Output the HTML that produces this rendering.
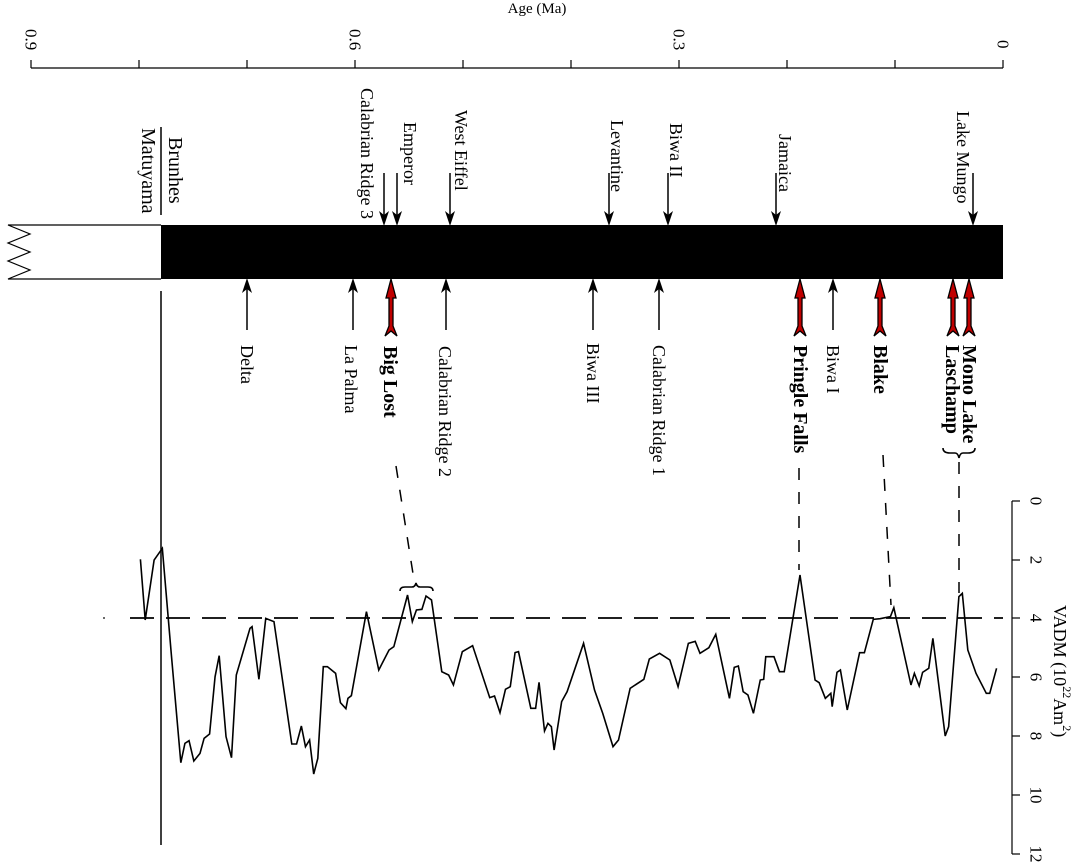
<!DOCTYPE html>
<html><head><meta charset="utf-8"><style>
html,body{margin:0;padding:0;background:#fff;}
svg{display:block;font-family:"Liberation Serif",serif;}
</style></head><body>
<svg width="1074" height="863" viewBox="0 0 1074 863" xmlns="http://www.w3.org/2000/svg">
<text x="537" y="13" font-size="15" text-anchor="middle">Age (Ma)</text>
<g stroke="#000" stroke-width="1.2" fill="none">
<line x1="31" y1="68" x2="1003" y2="68"/>
<line x1="31" y1="60" x2="31" y2="68"/><line x1="139" y1="60" x2="139" y2="68"/><line x1="247" y1="60" x2="247" y2="68"/><line x1="355" y1="60" x2="355" y2="68"/><line x1="463" y1="60" x2="463" y2="68"/><line x1="571" y1="60" x2="571" y2="68"/><line x1="679" y1="60" x2="679" y2="68"/><line x1="787" y1="60" x2="787" y2="68"/><line x1="895" y1="60" x2="895" y2="68"/><line x1="1003" y1="60" x2="1003" y2="68"/>
</g>
<g font-size="17">
<text transform="translate(31,29) rotate(90)" dominant-baseline="central">0.9</text>
<text transform="translate(355,29) rotate(90)" dominant-baseline="central">0.6</text>
<text transform="translate(679,29) rotate(90)" dominant-baseline="central">0.3</text>
<text transform="translate(1003,40) rotate(90)" dominant-baseline="central">0</text>
</g>
<rect x="161" y="225" width="842" height="54" fill="#000"/>
<path d="M161,225 H8 L30,234 L8,243 L30,252 L8,261 L30,270 L8,279 H161" fill="#fff" stroke="#000" stroke-width="1.2"/>
<line x1="161" y1="127" x2="161" y2="215" stroke="#000" stroke-width="1.5"/>
<line x1="161" y1="291" x2="161" y2="845" stroke="#000" stroke-width="1.5"/>
<g font-size="20">
<text transform="translate(175,137) rotate(90)" dominant-baseline="central">Brunhes</text>
<text transform="translate(148,128) rotate(90)" dominant-baseline="central">Matuyama</text>
</g>
<g stroke="#000" stroke-width="1.5">
<line x1="384" y1="173" x2="384" y2="216"/><line x1="397" y1="173" x2="397" y2="216"/><line x1="450" y1="173" x2="450" y2="216"/><line x1="609" y1="173" x2="609" y2="216"/><line x1="668" y1="173" x2="668" y2="216"/><line x1="776" y1="173" x2="776" y2="216"/><line x1="973" y1="173" x2="973" y2="216"/>
</g>
<g fill="#000">
<path d="M379,211 L384,226 L389,211 L384,215Z"/><path d="M392,211 L397,226 L402,211 L397,215Z"/><path d="M445,211 L450,226 L455,211 L450,215Z"/><path d="M604,211 L609,226 L614,211 L609,215Z"/><path d="M663,211 L668,226 L673,211 L668,215Z"/><path d="M771,211 L776,226 L781,211 L776,215Z"/><path d="M968,211 L973,226 L978,211 L973,215Z"/>
</g>
<g font-size="18">
<text transform="translate(367,88) rotate(90)" dominant-baseline="central">Calabrian Ridge 3</text>
<text transform="translate(410,122) rotate(90)" dominant-baseline="central">Emperor</text>
<text transform="translate(461,110) rotate(90)" dominant-baseline="central">West Eiffel</text>
<text transform="translate(617,120) rotate(90)" dominant-baseline="central">Levantine</text>
<text transform="translate(676,123) rotate(90)" dominant-baseline="central">Biwa II</text>
<text transform="translate(785,134) rotate(90)" dominant-baseline="central">Jamaica</text>
<text transform="translate(963,111) rotate(90)" dominant-baseline="central">Lake Mungo</text>
</g>
<g stroke="#000" stroke-width="1.5">
<line x1="247" y1="288" x2="247" y2="330"/><line x1="353" y1="288" x2="353" y2="330"/><line x1="446" y1="288" x2="446" y2="330"/><line x1="593" y1="288" x2="593" y2="330"/><line x1="659" y1="288" x2="659" y2="330"/><line x1="833" y1="288" x2="833" y2="330"/>
</g>
<g fill="#000">
<path d="M242,293 L247,278 L252,293 L247,289Z"/><path d="M348,293 L353,278 L358,293 L353,289Z"/><path d="M441,293 L446,278 L451,293 L446,289Z"/><path d="M588,293 L593,278 L598,293 L593,289Z"/><path d="M654,293 L659,278 L664,293 L659,289Z"/><path d="M828,293 L833,278 L838,293 L833,289Z"/>
</g>
<g fill="#c00000" stroke="#000" stroke-width="1.3">
<path d="M391,279 L396,298 L393,298 L393,326 L397,336 L391,331 L385,336 L389,326 L389,298 L386,298Z"/>
<path d="M800,279 L805,298 L802,298 L802,326 L806,336 L800,331 L794,336 L798,326 L798,298 L795,298Z"/>
<path d="M880,279 L885,298 L882,298 L882,326 L886,336 L880,331 L874,336 L878,326 L878,298 L875,298Z"/>
<path d="M953,279 L958,298 L955,298 L955,326 L959,336 L953,331 L947,336 L951,326 L951,298 L948,298Z"/>
<path d="M969,279 L974,298 L971,298 L971,326 L975,336 L969,331 L963,336 L967,326 L967,298 L964,298Z"/>
</g>
<g font-size="18">
<text transform="translate(247,345) rotate(90)" dominant-baseline="central">Delta</text>
<text transform="translate(351,345) rotate(90)" dominant-baseline="central">La Palma</text>
<text transform="translate(445,346) rotate(90)" dominant-baseline="central">Calabrian Ridge 2</text>
<text transform="translate(593,343) rotate(90)" dominant-baseline="central">Biwa III</text>
<text transform="translate(659,345) rotate(90)" dominant-baseline="central">Calabrian Ridge 1</text>
<text transform="translate(833,345) rotate(90)" dominant-baseline="central">Biwa I</text>
</g>
<g font-size="20" font-weight="bold">
<text transform="translate(390,346) rotate(90)" dominant-baseline="central">Big Lost</text>
<text transform="translate(800,345) rotate(90)" dominant-baseline="central">Pringle Falls</text>
<text transform="translate(880,345) rotate(90)" dominant-baseline="central">Blake</text>
<text transform="translate(952,345) rotate(90)" dominant-baseline="central">Laschamp</text>
<text transform="translate(969,345) rotate(90)" dominant-baseline="central">Mono Lake</text>
</g>
<path d="M943,448 Q943,453 950,453 L955,453 Q958,453 959,458 Q960,453 963,453 L968,453 Q975,453 975,448" fill="none" stroke="#000" stroke-width="1.6"/>
<path d="M400,591 Q400,587 405,587 L412,587 Q415,587 416,583 Q417,587 420,587 L428,587 Q433,587 433,591" fill="none" stroke="#000" stroke-width="1.6"/>
<g stroke="#000" stroke-width="1.5" stroke-dasharray="12,12" fill="none">
<line x1="396" y1="466" x2="414" y2="580"/>
<line x1="799" y1="468" x2="799" y2="570"/>
<line x1="883" y1="455" x2="891" y2="605"/>
<line x1="959" y1="462" x2="959" y2="593"/>
</g>
<line x1="130" y1="618" x2="1003" y2="618" stroke="#000" stroke-width="1.8" stroke-dasharray="24,12"/>
<circle cx="104" cy="618" r="0.9" fill="#000"/>
<g stroke="#000" stroke-width="1.2">
<line x1="1012" y1="501" x2="1012" y2="854"/>
<line x1="1012" y1="501" x2="1020" y2="501"/><line x1="1012" y1="560" x2="1020" y2="560"/><line x1="1012" y1="618" x2="1020" y2="618"/><line x1="1012" y1="677" x2="1020" y2="677"/><line x1="1012" y1="736" x2="1020" y2="736"/><line x1="1012" y1="795" x2="1020" y2="795"/><line x1="1012" y1="854" x2="1020" y2="854"/>
</g>
<g font-size="17">
<text transform="translate(1036,501) rotate(90)" dominant-baseline="central" text-anchor="middle">0</text>
<text transform="translate(1036,560) rotate(90)" dominant-baseline="central" text-anchor="middle">2</text>
<text transform="translate(1036,618) rotate(90)" dominant-baseline="central" text-anchor="middle">4</text>
<text transform="translate(1036,677) rotate(90)" dominant-baseline="central" text-anchor="middle">6</text>
<text transform="translate(1036,736) rotate(90)" dominant-baseline="central" text-anchor="middle">8</text>
<text transform="translate(1036,795) rotate(90)" dominant-baseline="central" text-anchor="middle">10</text>
<text transform="translate(1036,854) rotate(90)" dominant-baseline="central" text-anchor="middle">12</text>
</g>
<text transform="translate(1060,605) rotate(90)" dominant-baseline="central" font-size="18">VADM (10<tspan font-size="12" dy="-7">22</tspan><tspan dy="7">Am</tspan><tspan font-size="12" dy="-7">2</tspan><tspan dy="7">)</tspan></text>
<g transform="translate(0,480) scale(0.68493,0.33333)">
<polyline fill="none" stroke="#000" stroke-width="1.6" vector-effect="non-scaling-stroke" points="205,238 212,420 225,240 237,205 250,520 264,848 270,790 276,782 283,843 292,820 298,775 306,762 314,590 320,527 330,770 338,833 345,585 365,445 368,440 378,598 388,415 400,425 426,792 433,792 440,738 446,800 452,780 458,882 464,835 472,560 478,560 490,580 497,668 505,686 508,655 513,647 535,395 553,570 568,510 575,500 595,345 602,425 608,390 616,388 622,348 630,360 645,575 655,585 662,615 675,515 690,497 715,653 722,648 730,698 738,628 745,620 752,518 757,515 775,685 782,685 787,607 795,753 800,730 805,740 809,810 820,665 828,635 852,490 868,630 880,700 895,800 903,780 920,625 940,598 948,537 963,520 978,540 990,620 1005,490 1015,484 1022,520 1035,503 1045,463 1065,655 1072,562 1078,558 1085,635 1092,645 1100,700 1110,600 1115,598 1118,530 1130,530 1138,575 1145,575 1168,285 1190,600 1196,608 1205,655 1213,640 1215,680 1222,577 1227,570 1237,690 1255,518 1262,518 1275,418 1285,416 1300,410 1305,383 1330,615 1335,580 1342,618 1347,577 1356,565 1362,475 1380,768 1385,740 1400,350 1405,340 1413,510 1425,580 1440,640 1445,640 1455,565"/>
</g>
</svg>
</body></html>
